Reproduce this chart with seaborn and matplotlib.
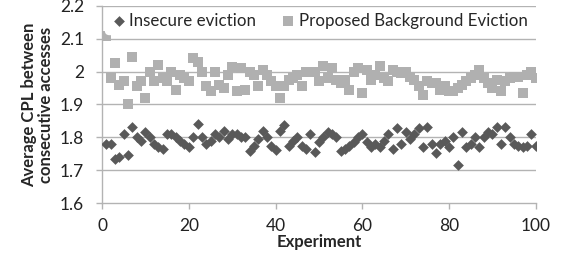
import matplotlib
matplotlib.use("Agg")
import matplotlib.pyplot as plt
import seaborn as sns
import pandas as pd

experiments = list(range(1, 101))

insecure = [1.78, 1.78, 1.735, 1.74, 1.81, 1.745, 1.83, 1.80, 1.79, 1.815,
            1.80, 1.78, 1.77, 1.765, 1.81, 1.81, 1.80, 1.79, 1.78, 1.77,
            1.80, 1.84, 1.80, 1.78, 1.79, 1.81, 1.80, 1.818, 1.795, 1.81,
            1.81, 1.80, 1.80, 1.757, 1.775, 1.795, 1.818, 1.80, 1.775, 1.762,
            1.82, 1.838, 1.775, 1.79, 1.80, 1.775, 1.765, 1.81, 1.755, 1.785,
            1.80, 1.815, 1.81, 1.80, 1.757, 1.765, 1.775, 1.785, 1.80, 1.81,
            1.785, 1.77, 1.78, 1.77, 1.79, 1.81, 1.765, 1.828, 1.78, 1.815,
            1.795, 1.81, 1.828, 1.77, 1.833, 1.78, 1.752, 1.78, 1.79, 1.77,
            1.80, 1.716, 1.815, 1.77, 1.78, 1.80, 1.77, 1.80, 1.815, 1.81,
            1.833, 1.78, 1.833, 1.80, 1.78, 1.775, 1.77, 1.775, 1.81, 1.775]

proposed = [2.11, 1.98, 2.025, 1.96, 1.97, 1.90, 2.045, 1.955, 1.97, 1.92,
            2.00, 1.97, 2.02, 1.98, 1.97, 2.00, 1.945, 1.99, 1.98, 1.97,
            2.04, 2.03, 2.00, 1.955, 1.94, 2.00, 1.96, 1.95, 1.99, 2.015,
            1.94, 2.01, 1.945, 2.00, 1.99, 1.955, 2.005, 1.99, 1.97, 1.955,
            1.92, 1.955, 1.975, 1.98, 1.99, 1.955, 2.00, 2.00, 2.00, 1.97,
            2.016, 1.98, 2.01, 1.975, 1.965, 1.975, 1.945, 2.00, 2.01, 1.935,
            2.005, 1.975, 1.99, 2.016, 1.98, 1.97, 2.005, 2.00, 1.995, 2.00,
            1.985, 1.975, 1.955, 1.93, 1.97, 1.965, 1.965, 1.945, 1.955, 1.94,
            1.94, 1.95, 1.96, 1.97, 1.98, 1.99, 2.006, 1.98, 1.965, 1.95,
            1.975, 1.94, 1.97, 1.98, 1.985, 1.985, 1.935, 1.99, 2.00, 1.98]

series_names = ["Insecure eviction", "Proposed Background Eviction"]
y_ticks = [1.6, 1.7, 1.8, 1.9, 2.0, 2.1, 2.2]
y_tick_labels = ["1.6", "1.7", "1.8", "1.9", "2", "2.1", "2.2"]
x_ticks = [0, 20, 40, 60, 80, 100]

df = pd.DataFrame({
    "Experiment": experiments * 2,
    "value": insecure + proposed,
    "series": [series_names[0]] * 100 + [series_names[1]] * 100,
})

sns.set_style("white")
plt.rcParams["font.family"] = ["Lato", "DejaVu Sans"]

fig = plt.figure(figsize=(5.64, 2.58), dpi=100)
ax = fig.add_axes([0.181, 0.213, 0.769, 0.764])

grid_c = "#b3b3b3"
ax.set_axisbelow(True)
for yv in y_ticks[1:]:
    ax.axhline(yv, color=grid_c, lw=1.0, zorder=0)

palette = {series_names[0]: "#595959", series_names[1]: "#b0b0b0"}
sns.scatterplot(data=df[df.series == series_names[1]], x="Experiment", y="value",
                color=palette[series_names[1]], marker="s", s=48, linewidth=0,
                ax=ax, label=series_names[1], zorder=3)
sns.scatterplot(data=df[df.series == series_names[0]], x="Experiment", y="value",
                color=palette[series_names[0]], marker="D", s=30, linewidth=0,
                ax=ax, label=series_names[0], zorder=4)

ax.set_xlim(0, 100)
ax.set_ylim(1.6, 2.2)
ax.set_xticks(x_ticks)
ax.set_xticklabels([str(t) for t in x_ticks], fontsize=12.5, color="#222222")
ax.set_yticks(y_ticks)
ax.set_yticklabels(y_tick_labels, fontsize=12.5, color="#222222")
ax.tick_params(axis="both", direction="out", length=4, width=1, color=grid_c,
               left=True, bottom=True)
ax.tick_params(axis="y", pad=9)
ax.tick_params(axis="x", pad=7)

for side in ["top", "right"]:
    ax.spines[side].set_visible(False)
for side in ["left", "bottom"]:
    ax.spines[side].set_color(grid_c)
    ax.spines[side].set_linewidth(1.0)

ax.set_xlabel("Experiment", fontsize=12, fontweight="bold", labelpad=0)
ax.set_ylabel("Average CPL between\nconsecutive accesses", fontsize=12,
              fontweight="bold", labelpad=4, linespacing=1.05)

handles, labels = ax.get_legend_handles_labels()
order = [labels.index(series_names[0]), labels.index(series_names[1])]
leg = ax.legend([handles[i] for i in order], [labels[i] for i in order],
                loc="upper center", bbox_to_anchor=(0.5, 1.0), ncol=2,
                frameon=True, fontsize=12.2, handletextpad=0.1,
                columnspacing=1.4, borderpad=0.3, handlelength=1.0,
                borderaxespad=0.1)
leg.get_frame().set_facecolor("white")
leg.get_frame().set_edgecolor("white")
leg.get_frame().set_alpha(1.0)
leg.set_zorder(5)

fig.savefig("out.png", dpi=100)
